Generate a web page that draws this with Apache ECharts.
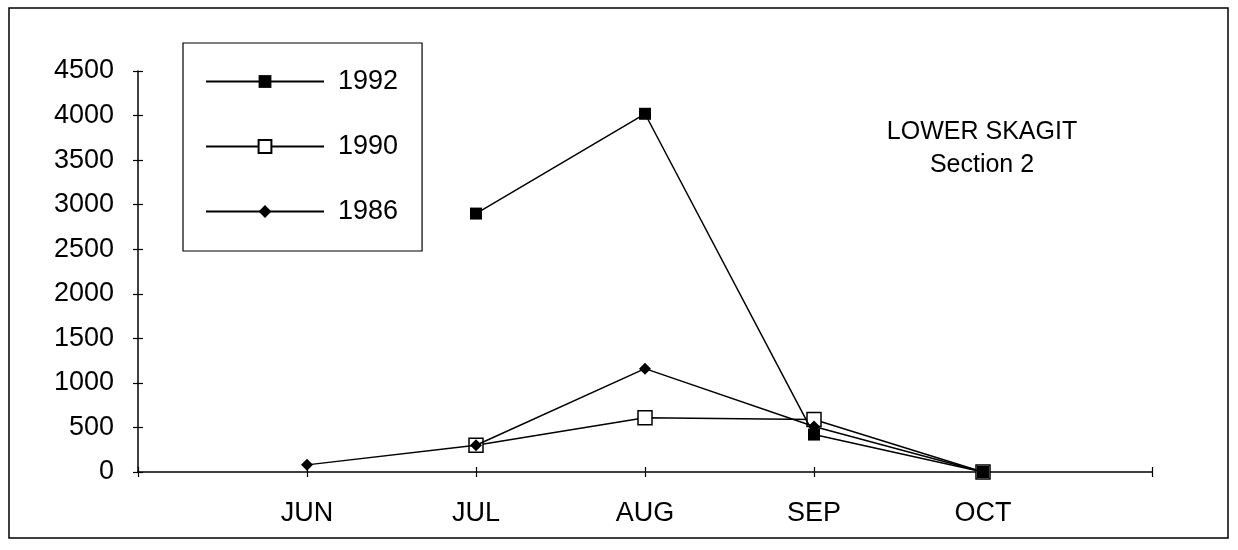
<!DOCTYPE html>
<html>
<head>
<meta charset="utf-8">
<style>
  html, body { margin: 0; padding: 0; background: #fff; }
  #chart { width: 1238px; height: 550px; }
</style>
<script src="https://cdn.jsdelivr.net/npm/echarts@6/dist/echarts.min.js"></script>
</head>
<body>
<div id="chart"></div>
<script>
// Months along the x axis (blank slots pad each end of the axis)
const months = ['', 'JUN', 'JUL', 'AUG', 'SEP', 'OCT', ''];

// Monthly counts per survey year (null = not sampled)
const y1992 = [null, null, 2900, 4020, 420, 0, null];
const y1990 = [null, null, 300, 610, 590, 0, null];
const y1986 = [null, 80, 300, 1160, 510, 0, null];

const yTicks = { min: 0, max: 4500, interval: 500 };

const FONT = 'Liberation Sans';
const INK = '#000';

const chart = echarts.init(document.getElementById('chart'), null, { renderer: 'canvas' });

const baseLine = { color: INK, width: 1.5 };
const gridBox = { left: 138, right: 86, top: 71, bottom: 78, containLabel: false };

chart.setOption({
  backgroundColor: '#fff',
  animation: false,
  textStyle: { fontFamily: FONT, color: INK },
  title: {
    text: 'LOWER SKAGIT\nSection 2',
    left: 977,
    top: 111,
    textAlign: 'center',
    textStyle: { fontFamily: FONT, fontSize: 25, fontWeight: 'normal', color: INK, lineHeight: 33 }
  },
  legend: {
    orient: 'vertical',
    left: 183,
    top: 43,
    padding: [25, 24, 26, 22],
    itemWidth: 118,
    itemHeight: 16,
    itemGap: 38,
    borderColor: INK,
    borderWidth: 1.2,
    backgroundColor: '#fff',
    textStyle: { fontFamily: FONT, fontSize: 27, color: INK, padding: [0, 0, 0, 9] },
    data: ['1992', '1990', '1986']
  },
  // second grid carries the inward half of each cross tick
  grid: [gridBox, gridBox],
  xAxis: [
    {
      type: 'category',
      gridIndex: 0,
      data: months,
      boundaryGap: false,
      axisLine: { lineStyle: { color: INK, width: 1.5 } },
      axisTick: { show: false },
      axisLabel: { fontFamily: FONT, fontSize: 27, color: INK, margin: 28, interval: 0 },
      splitLine: { show: false }
    },
    {
      type: 'category',
      gridIndex: 1,
      data: months,
      boundaryGap: false,
      offset: -5,
      axisLine: { show: false },
      axisTick: { show: true, length: 10, interval: 0, lineStyle: { color: INK, width: 1.2 } },
      axisLabel: { show: false },
      splitLine: { show: false }
    }
  ],
  yAxis: [
    {
      type: 'value',
      gridIndex: 0,
      min: yTicks.min,
      max: yTicks.max,
      interval: yTicks.interval,
      axisLine: { show: true, lineStyle: { color: INK, width: 1.5 } },
      axisTick: { show: false },
      axisLabel: { fontFamily: FONT, fontSize: 27, color: INK, margin: 24, formatter: v => String(v) },
      splitLine: { show: false }
    },
    {
      type: 'value',
      gridIndex: 1,
      min: yTicks.min,
      max: yTicks.max,
      interval: yTicks.interval,
      offset: -5,
      axisLine: { show: false },
      axisTick: { show: true, length: 10, lineStyle: { color: INK, width: 1.2 } },
      axisLabel: { show: false },
      splitLine: { show: false }
    }
  ],
  graphic: [
    {
      type: 'rect',
      shape: { x: 9, y: 8, width: 1219, height: 530 },
      style: { fill: 'none', stroke: INK, lineWidth: 1.5 },
      z: -1
    }
  ],
  series: [
    {
      name: '1986',
      type: 'line',
      data: y1986,
      symbol: 'diamond',
      symbolSize: 12,
      showAllSymbol: true,
      lineStyle: baseLine,
      itemStyle: { color: INK, borderColor: INK, borderWidth: 0 },
      z: 3
    },
    {
      name: '1990',
      type: 'line',
      data: y1990,
      symbol: 'rect',
      symbolSize: 14,
      showAllSymbol: true,
      lineStyle: baseLine,
      itemStyle: { color: '#fff', borderColor: INK, borderWidth: 1.5 },
      z: 2
    },
    {
      name: '1992',
      type: 'line',
      data: y1992,
      symbol: 'rect',
      symbolSize: 12,
      showAllSymbol: true,
      lineStyle: baseLine,
      itemStyle: { color: INK, borderColor: INK, borderWidth: 0 },
      z: 4
    }
  ]
});
</script>
</body>
</html>
